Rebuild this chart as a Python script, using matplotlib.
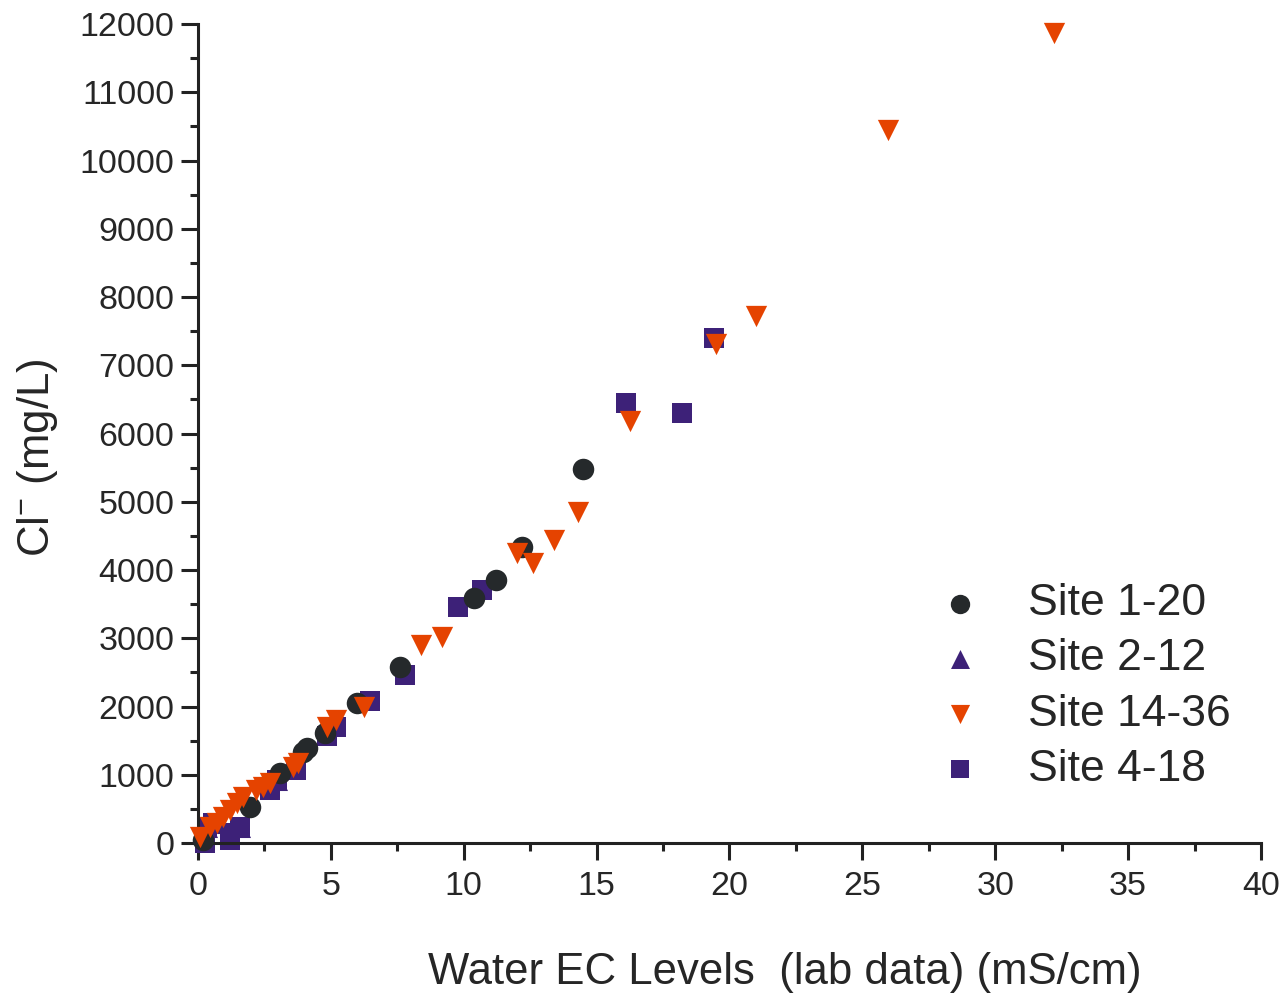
import matplotlib
matplotlib.use("Agg")
import matplotlib.pyplot as plt

# Cl- vs lab EC, one series per site group
site_1_20_ec = [0.2, 1.96, 3.08, 3.95, 4.1, 4.78, 6.0, 7.6, 10.4, 11.2, 12.2, 14.5]
site_1_20_cl = [40, 530, 1025, 1330, 1390, 1610, 2050, 2580, 3590, 3850, 4340, 5480]

site_2_12_ec = [0.34, 0.56, 1.2, 1.58, 2.97]
site_2_12_cl = [230, 290, 150, 230, 920]

site_14_36_ec = [0.08, 0.45, 0.7, 0.94, 1.2, 1.47, 1.7, 2.2, 2.45, 2.7, 3.57, 3.76,
                 4.85, 5.2, 6.25, 8.4, 9.2, 12.0, 12.6, 13.4, 14.3, 16.26, 19.5,
                 21.0, 25.96, 32.2]
site_14_36_cl = [90, 230, 290, 380, 480, 590, 670, 780, 820, 880, 1110, 1170,
                 1700, 1800, 1990, 2900, 3020, 4250, 4100, 4440, 4850, 6180, 7310,
                 7720, 10450, 11870]

site_4_18_ec = [0.26, 0.34, 0.56, 1.2, 1.2, 1.58, 2.7, 2.97, 3.7, 4.85, 5.2, 6.47,
                7.8, 9.8, 10.7, 16.1, 18.2, 19.4]
site_4_18_cl = [0, 230, 290, 40, 150, 230, 780, 920, 1070, 1570, 1700, 2080,
                2460, 3460, 3700, 6450, 6300, 7400]

x_ticks = [0, 5, 10, 15, 20, 25, 30, 35, 40]
y_ticks = list(range(0, 12001, 1000))

TEXT = "#262626"
plt.rcParams["font.family"] = ["Liberation Sans", "DejaVu Sans"]
plt.rcParams["mathtext.fontset"] = "custom"
plt.rcParams["mathtext.rm"] = "Liberation Sans"
plt.rcParams["text.color"] = TEXT

fig = plt.figure(figsize=(12.88, 9.96), dpi=100)
ax = fig.add_axes([0.1537, 0.1536, 0.8253, 0.8223])

ax.scatter(site_4_18_ec, site_4_18_cl, s=215, marker="s", color="#3d2178",
           label="Site 4-18", zorder=2, clip_on=False, linewidths=0)
ax.scatter(site_2_12_ec, site_2_12_cl, s=230, marker="^", color="#3d2178",
           label="Site 2-12", zorder=1, clip_on=False, linewidths=0)
ax.scatter(site_1_20_ec, site_1_20_cl, s=240, marker="o", color="#25292b",
           label="Site 1-20", zorder=3, clip_on=False, linewidths=0)
ax.scatter(site_14_36_ec, site_14_36_cl, s=235, marker="v", color="#e54300",
           label="Site 14-36", zorder=4, clip_on=False, linewidths=0)

ax.set_xlim(0, 40)
ax.set_ylim(0, 12000)
ax.set_xticks(x_ticks)
ax.set_yticks(y_ticks)
ax.set_xticks([t + 2.5 for t in x_ticks[:-1]], minor=True)
ax.set_yticks([t + 500 for t in y_ticks[:-1]], minor=True)

for side in ("top", "right"):
    ax.spines[side].set_visible(False)
for side in ("left", "bottom"):
    ax.spines[side].set_linewidth(2.2)
    ax.spines[side].set_color("#222222")

ax.tick_params(which="major", length=12, width=2.2, color="#222222",
               labelsize=24.5, labelcolor=TEXT, pad=5)
ax.tick_params(axis="x", which="major", pad=8)
ax.tick_params(which="minor", length=6, width=2.2, color="#222222")

# axis titles placed in figure coords
fig.text(785 / 1288, 1 - 972 / 996, "Water EC Levels  (lab data) (mS/cm)",
         fontsize=31.5, ha="center", va="center")
fig.text(38 / 1288, 1 - 458 / 996, "Cl$^{-}$ (mg/L)", fontsize=31.5,
         ha="center", va="center", rotation=90)

handles, labels = ax.get_legend_handles_labels()
order = ["Site 1-20", "Site 2-12", "Site 14-36", "Site 4-18"]
hmap = dict(zip(labels, handles))
ax.legend([hmap[k] for k in order], order, loc="center left",
          bbox_to_anchor=(0.6754, 0.191), frameon=False, fontsize=32,
          handletextpad=0.52, labelspacing=0.32, scatterpoints=1,
          markerscale=0.9, borderpad=0, borderaxespad=0)

fig.savefig("out.png", dpi=100)
